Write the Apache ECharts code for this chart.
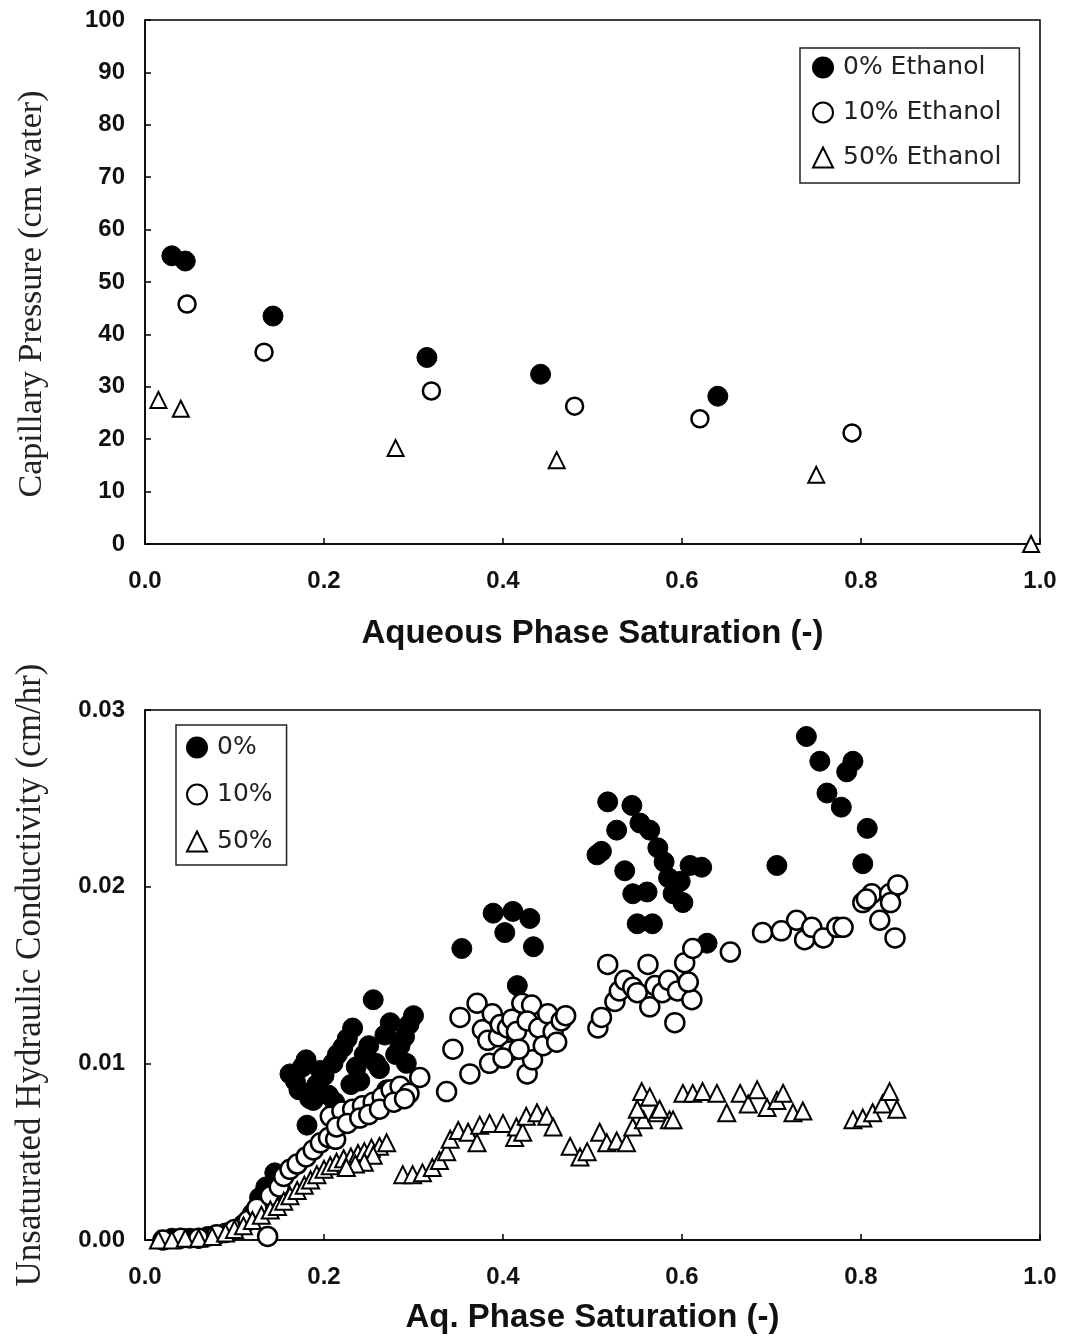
<!DOCTYPE html>
<html>
<head>
<meta charset="utf-8">
<script src="https://cdn.jsdelivr.net/npm/echarts@6/dist/echarts.min.js"></script>
<style>
html,body{margin:0;padding:0;background:#fff;}
#chart{width:1071px;height:1339px;}
</style>
</head>
<body>
<div id="chart"></div>
<script>
// ---------- Top chart: Capillary pressure ----------
var pc0 = [[0.030,55.0],[0.045,54.0],[0.143,43.5],[0.315,35.6],[0.442,32.4],[0.640,28.2]];
var pc10 = [[0.047,45.8],[0.133,36.6],[0.320,29.2],[0.480,26.3],[0.620,23.9],[0.790,21.2]];
var pc50 = [[0.015,27.5],[0.040,25.8],[0.280,18.3],[0.460,16.0],[0.750,13.2],[0.990,0.0]];
var topNames = ['0% Ethanol','10% Ethanol','50% Ethanol'];

// ---------- Bottom chart: unsaturated hydraulic conductivity ----------
var k0 = [
 [0.03,0.0001],[0.05,0.0001],[0.07,0.0002],[0.09,0.0004],[0.11,0.0009],[0.12,0.0015],[0.128,0.0024],[0.135,0.0030],[0.145,0.0038],
 [0.162,0.0094],[0.168,0.0090],[0.172,0.0085],[0.176,0.0098],[0.180,0.0102],[0.184,0.0080],[0.188,0.0079],[0.181,0.0065],
 [0.192,0.0088],[0.196,0.0096],[0.200,0.0093],[0.205,0.0082],[0.210,0.0100],[0.215,0.0105],[0.221,0.0109],[0.226,0.0114],
 [0.232,0.0120],[0.236,0.0098],[0.240,0.0090],[0.245,0.0105],[0.250,0.0110],[0.255,0.0136],[0.258,0.0100],[0.262,0.0097],
 [0.268,0.0116],[0.274,0.0123],[0.280,0.0105],[0.285,0.0110],[0.290,0.0115],[0.295,0.0122],[0.300,0.0127],[0.292,0.0100],
 [0.270,0.0085],[0.230,0.0088],[0.212,0.0078],
 [0.354,0.0165],[0.389,0.0185],[0.411,0.0186],[0.430,0.0182],[0.402,0.0174],[0.434,0.0166],[0.416,0.0144],
 [0.517,0.0248],[0.544,0.0246],[0.527,0.0232],[0.553,0.0236],[0.564,0.0232],[0.573,0.0222],[0.505,0.0218],[0.510,0.0220],
 [0.536,0.0209],[0.580,0.0214],[0.609,0.0212],[0.622,0.0211],[0.585,0.0205],[0.598,0.0203],[0.590,0.0196],[0.601,0.0191],
 [0.545,0.0196],[0.561,0.0197],[0.550,0.0179],[0.567,0.0179],[0.628,0.0168],
 [0.739,0.0285],[0.754,0.0271],[0.791,0.0271],[0.784,0.0265],[0.762,0.0253],[0.778,0.0245],[0.807,0.0233],[0.802,0.0213],[0.706,0.0212]
];
var k10 = [
 [0.02,0.0000],[0.04,0.0001],[0.06,0.0001],[0.08,0.0003],[0.10,0.0006],[0.115,0.0011],[0.125,0.0018],[0.137,0.0002],
 [0.140,0.0025],[0.150,0.0030],[0.155,0.0036],[0.162,0.0040],[0.170,0.0043],[0.180,0.0047],[0.188,0.0051],[0.196,0.0055],
 [0.205,0.0058],[0.213,0.0057],
 [0.207,0.0070],[0.220,0.0073],[0.232,0.0074],[0.243,0.0076],[0.255,0.0078],[0.265,0.0081],[0.275,0.0085],[0.285,0.0087],
 [0.295,0.0083],[0.307,0.0092],[0.214,0.0064],[0.226,0.0066],[0.240,0.0069],[0.250,0.0071],[0.262,0.0074],[0.278,0.0078],[0.290,0.0080],
 [0.337,0.0084],[0.344,0.0108],[0.352,0.0126],[0.363,0.0094],[0.371,0.0134],[0.377,0.0119],[0.383,0.0113],[0.385,0.0100],
 [0.388,0.0128],[0.395,0.0115],[0.397,0.0122],[0.408,0.0107],[0.405,0.0120],[0.410,0.0125],[0.415,0.0118],[0.421,0.0134],
 [0.427,0.0094],[0.433,0.0102],[0.432,0.0133],[0.427,0.0124],[0.440,0.0120],[0.445,0.0110],[0.450,0.0128],[0.456,0.0118],
 [0.460,0.0112],[0.465,0.0124],[0.470,0.0127],[0.418,0.0108],[0.400,0.0103],
 [0.506,0.0120],[0.510,0.0126],[0.517,0.0156],[0.525,0.0135],[0.530,0.0141],[0.536,0.0147],[0.545,0.0143],[0.550,0.0140],
 [0.562,0.0156],[0.564,0.0132],[0.570,0.0144],[0.578,0.0140],[0.585,0.0147],[0.592,0.0123],[0.595,0.0141],[0.603,0.0157],
 [0.611,0.0136],[0.607,0.0146],[0.612,0.0165],[0.654,0.0163],
 [0.690,0.0174],[0.711,0.0175],[0.728,0.0181],[0.737,0.0170],[0.745,0.0177],[0.758,0.0171],[0.773,0.0177],[0.780,0.0177],
 [0.802,0.0191],[0.812,0.0196],[0.832,0.0196],[0.841,0.0201],[0.833,0.0191],[0.821,0.0181],[0.838,0.0171],[0.806,0.0193]
];
var k50 = [
 [0.015,0.0000],[0.030,0.0000],[0.045,0.0001],[0.060,0.0001],[0.075,0.0002],[0.090,0.0004],[0.100,0.0006],[0.110,0.0008],
 [0.120,0.0011],[0.130,0.0014],[0.140,0.0017],[0.148,0.0019],[0.155,0.0022],[0.162,0.0025],[0.170,0.0028],[0.178,0.0031],
 [0.185,0.0034],[0.192,0.0037],[0.200,0.0040],[0.207,0.0042],[0.214,0.0044],[0.222,0.0046],[0.230,0.0047],[0.238,0.0049],
 [0.245,0.0050],[0.253,0.0052],[0.262,0.0053],[0.270,0.0055],[0.255,0.0048],[0.245,0.0044],[0.235,0.0043],[0.225,0.0041],
 [0.288,0.0037],[0.299,0.0037],[0.310,0.0038],[0.321,0.0041],[0.329,0.0045],[0.337,0.0050],[0.341,0.0057],[0.350,0.0062],
 [0.361,0.0061],[0.371,0.0055],[0.374,0.0065],[0.385,0.0066],[0.400,0.0066],[0.413,0.0058],[0.415,0.0064],[0.422,0.0061],
 [0.426,0.0070],[0.438,0.0072],[0.449,0.0070],[0.456,0.0064],[0.475,0.0053],[0.486,0.0047],[0.494,0.0050],[0.508,0.0061],
 [0.516,0.0055],[0.527,0.0056],[0.538,0.0055],[0.545,0.0064],[0.557,0.0068],[0.557,0.0081],[0.572,0.0072],[0.586,0.0068],
 [0.555,0.0084],[0.550,0.0074],[0.564,0.0081],[0.575,0.0074],[0.590,0.0068],[0.601,0.0083],[0.612,0.0083],[0.623,0.0084],
 [0.639,0.0083],[0.650,0.0072],[0.665,0.0083],[0.674,0.0077],[0.684,0.0085],[0.695,0.0075],[0.706,0.0079],[0.713,0.0083],
 [0.724,0.0072],[0.735,0.0073],[0.791,0.0068],[0.802,0.0069],[0.813,0.0072],[0.824,0.0077],[0.832,0.0084],[0.840,0.0074]
];
var botNames = ['0%','10%','50%'];

var SANS = 'Liberation Sans, Arial, sans-serif';
var WIDE = 'DejaVu Sans, Verdana, sans-serif';
var SERIF = 'Liberation Serif, Times New Roman, serif';

function xAxisCfg(grid, name, gap){
  return {
    type:'value', gridIndex:grid, min:0, max:1, interval:0.2,
    name:name, nameLocation:'middle', nameGap:gap,
    nameTextStyle:{fontFamily:SANS, fontWeight:'bold', fontSize:33, color:'#111'},
    axisLine:{show:true, onZero:false, lineStyle:{color:'#000', width:1.5}},
    axisTick:{show:true, inside:true, length:6, lineStyle:{color:'#000', width:1.5}},
    axisLabel:{margin:25, fontFamily:SANS, fontWeight:'bold', fontSize:24, color:'#111',
      formatter:function(v){return v.toFixed(1);}},
    splitLine:{show:false}
  };
}
function yAxisCfg(grid, name, min, max, interval, dec, gap, fs, shift){
  return {
    type:'value', gridIndex:grid, min:min, max:max, interval:interval,
    name:name, nameLocation:'middle', nameGap:gap,
    nameTextStyle:{fontFamily:SERIF, fontSize:fs, color:'#222', padding:[0,shift,0,0]},
    axisLine:{show:true, lineStyle:{color:'#000', width:1.5}},
    axisTick:{show:true, inside:true, length:6, lineStyle:{color:'#000', width:1.5}},
    axisLabel:{margin:20, fontFamily:SANS, fontWeight:'bold', fontSize:24, color:'#111',
      formatter:function(v){return v.toFixed(dec);}},
    splitLine:{show:false}
  };
}
function filled(name, data, xi, size){
  return {type:'scatter', name:name, xAxisIndex:xi, yAxisIndex:xi, data:data, symbol:'circle', symbolSize:size,
    itemStyle:{color:'#000', borderColor:'#000', borderWidth:1, opacity:1}};
}
function open(name, data, xi, size){
  return {type:'scatter', name:name, xAxisIndex:xi, yAxisIndex:xi, data:data, symbol:'circle', symbolSize:size,
    itemStyle:{color:'#fff', borderColor:'#000', borderWidth:2.5, opacity:1}};
}
function tri(name, data, xi, size){
  return {type:'scatter', name:name, xAxisIndex:xi, yAxisIndex:xi, data:data, symbol:'triangle', symbolSize:size,
    itemStyle:{color:'#fff', borderColor:'#000', borderWidth:2, opacity:1}};
}

var chart = echarts.init(document.getElementById('chart'), null, {renderer:'canvas'});
chart.setOption({
  backgroundColor:'#fff',
  animation:false,
  grid:[
    {left:145, top:20, width:895, height:524, show:true, borderColor:'#000', borderWidth:1.5, backgroundColor:'transparent'},
    {left:145, top:710, width:895, height:530, show:true, borderColor:'#000', borderWidth:1.5, backgroundColor:'transparent'}
  ],
  xAxis:[ xAxisCfg(0,'Aqueous Phase Saturation (-)',73), xAxisCfg(1,'Aq. Phase Saturation (-)',61) ],
  yAxis:[ yAxisCfg(0,'Capillary Pressure (cm water)',0,100,10,0,96,34,24),
          yAxisCfg(1,'Unsaturated Hydraulic Conductivity (cm/hr)',0,0.03,0.01,2,97,35,0) ],
  legend:[
    {data:topNames, orient:'vertical', left:800, top:48, itemGap:20, itemWidth:20, itemHeight:20,
     padding:[7,18,13,12], borderColor:'#222', borderWidth:1.5, backgroundColor:'#fff',
     textStyle:{fontFamily:WIDE, fontSize:25, lineHeight:25, color:'#222', padding:[0,0,0,5]}},
    {data:botNames, orient:'vertical', left:176, top:725, itemGap:22, itemWidth:20, itemHeight:20,
     padding:[10,14,11,10], borderColor:'#222', borderWidth:1.5, backgroundColor:'#fff',
     textStyle:{fontFamily:WIDE, fontSize:25, lineHeight:25, color:'#222', padding:[0,0,0,5]}}
  ],
  series:[
    filled(topNames[0], pc0, 0, 20),
    open(topNames[1], pc10, 0, 17),
    tri(topNames[2], pc50, 0, 16),
    filled(botNames[0], k0, 1, 20),
    open(botNames[1], k10, 1, 19),
    tri(botNames[2], k50, 1, 17)
  ]
});
</script>
</body>
</html>
